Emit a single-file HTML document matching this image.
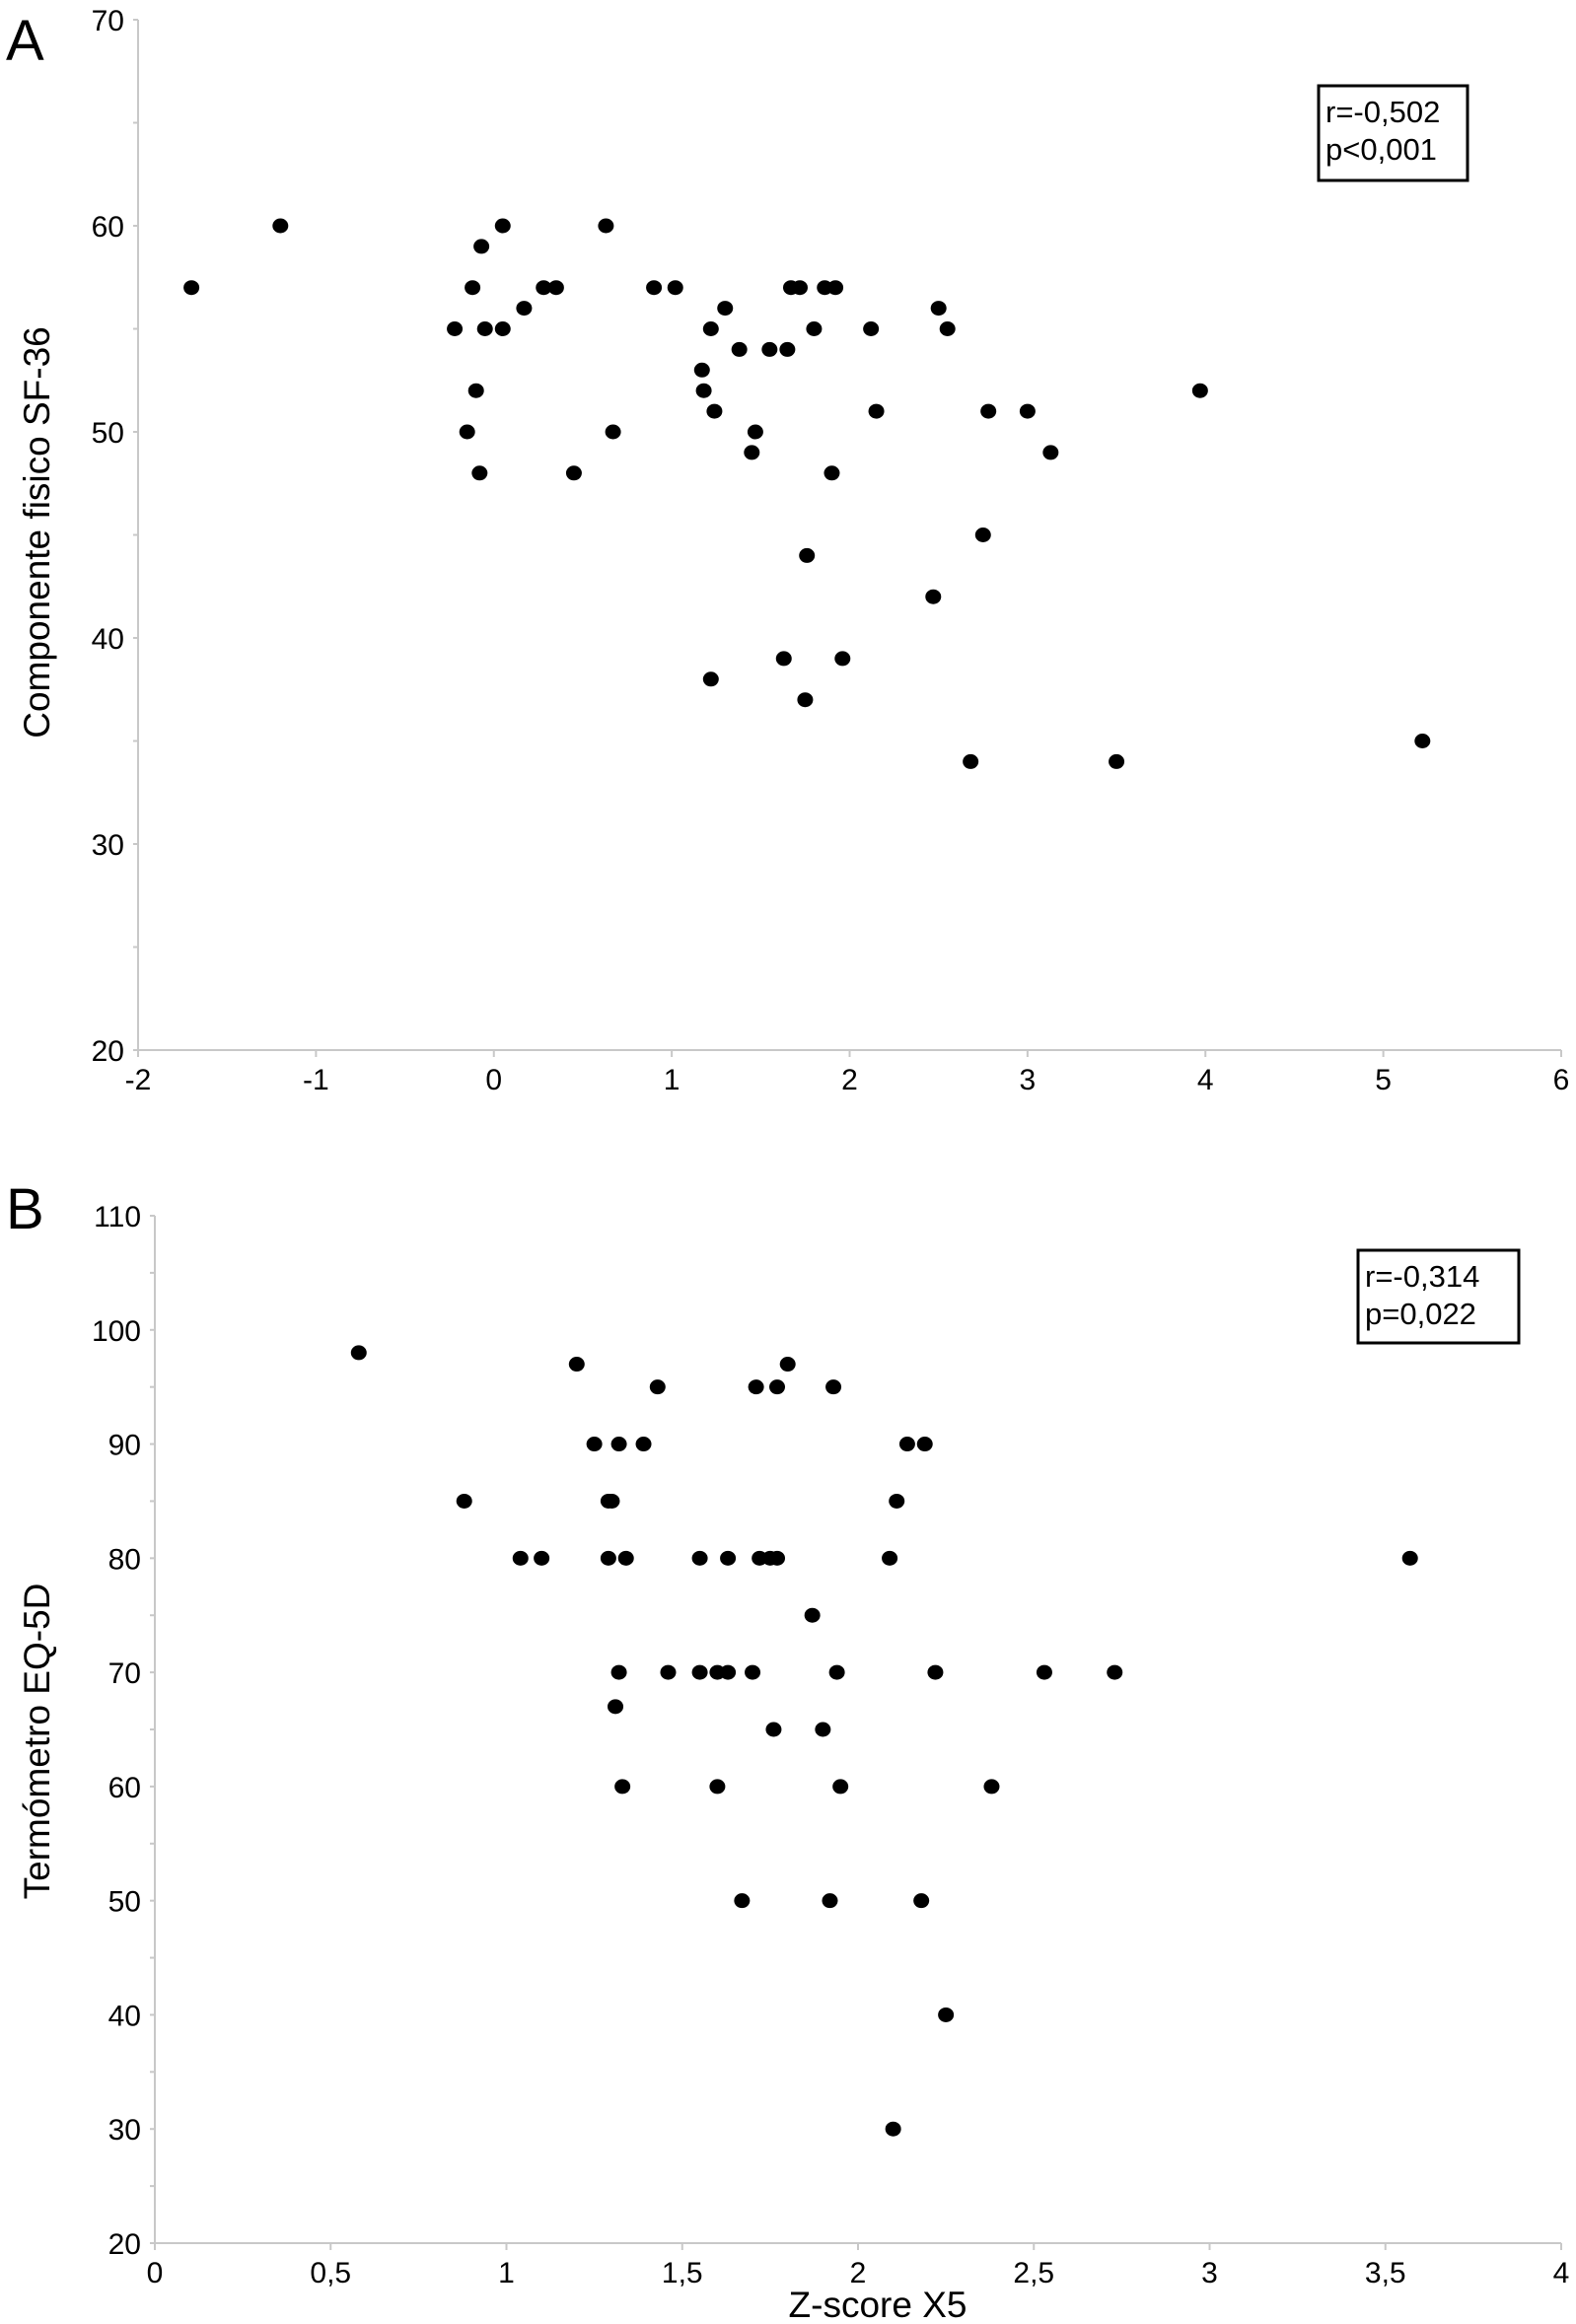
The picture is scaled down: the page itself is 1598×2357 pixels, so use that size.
<!DOCTYPE html>
<html><head><meta charset="utf-8"><style>
html,body{margin:0;padding:0;background:#fff;}
svg{display:block;font-family:"Liberation Sans",sans-serif;}
</style></head><body>
<svg id="chart" width="1598" height="2357" viewBox="0 0 1598 2357">
<text x="6" y="61" font-size="58">A</text>
<text x="6" y="1246" font-size="58">B</text>
<g id="pa"></g>
<g id="pb"></g>
</svg>
<script>
const NS="http://www.w3.org/2000/svg";
const aXTicks=[-2,-1,0,1,2,3,4,5,6];
const aYTicks=[20,30,40,50,60,70];
const aX=[-1.7,-1.2,-0.22,-0.15,-0.12,-0.1,-0.08,-0.07,-0.05,0.05,0.05,0.17,0.28,0.35,0.45,0.63,0.67,0.9,1.02,1.17,1.18,1.22,1.24,1.3,1.22,1.38,1.45,1.47,1.55,1.65,1.63,1.67,1.72,1.75,1.76,1.8,1.86,1.92,1.9,1.96,2.12,2.15,2.47,2.5,2.55,2.68,2.75,2.78,3.0,3.13,3.5,3.97,5.22];
const aY=[57,60,55,50,57,52,48,59,55,55,60,56,57,57,48,60,50,57,57,53,52,55,51,56,38,54,49,50,54,54,39,57,57,37,44,55,57,57,48,39,55,51,42,56,55,34,45,51,51,49,34,52,35];
const bXTicks=[0,0.5,1,1.5,2,2.5,3,3.5,4];
const bXLabels=["0","0,5","1","1,5","2","2,5","3","3,5","4"];
const bYTicks=[20,30,40,50,60,70,80,90,100,110];
const bX=[0.58,0.88,1.04,1.1,1.2,1.25,1.29,1.3,1.29,1.32,1.34,1.39,1.43,1.32,1.31,1.33,1.46,1.55,1.55,1.6,1.63,1.63,1.6,1.67,1.7,1.71,1.72,1.75,1.77,1.77,1.76,1.8,1.87,1.9,1.93,1.94,1.92,1.95,2.09,2.11,2.14,2.19,2.1,2.18,2.22,2.25,2.38,2.53,2.73,3.57];
const bY=[98,85,80,80,97,90,85,85,80,90,80,90,95,70,67,60,70,70,80,70,70,80,60,50,70,95,80,80,95,80,65,97,75,65,95,70,50,60,80,85,90,90,30,50,70,40,60,70,70,80];

function mk(tag,attrs,parent){const e=document.createElementNS(NS,tag);for(const k in attrs)e.setAttribute(k,attrs[k]);parent.appendChild(e);return e;}

function panel(g,cfg,xs,ys,xt,xl,yt){
  const sx=v=>cfg.x0+(v-cfg.xmin)/(cfg.xmax-cfg.xmin)*(cfg.x1-cfg.x0);
  const sy=v=>cfg.y0-(v-cfg.ymin)/(cfg.ymax-cfg.ymin)*(cfg.y0-cfg.y1);
  const ya=mk('line',{x1:cfg.x0,x2:cfg.x0,y1:cfg.y1,y2:cfg.y0,stroke:'#c8c8c8','stroke-width':2},g);
  
  
  const xa=mk('line',{x1:cfg.x0,x2:cfg.x1,y1:cfg.y0,y2:cfg.y0,stroke:'#c8c8c8','stroke-width':2},g);
  
  
  for(let v=cfg.ymin;v<=cfg.ymax;v+=cfg.minor){
    const t=mk('line',{x1:cfg.x0-5,x2:cfg.x0,y1:sy(v),y2:sy(v),stroke:'#c8c8c8','stroke-width':2},g);
    
    
  }
  yt.forEach(v=>{
    const t=mk('text',{x:cfg.x0-14,y:sy(v)+11,'text-anchor':'end','font-size':30},g);
    t.textContent=String(v);
    
    
  });
  xt.forEach((v,i)=>{
    const tk=mk('line',{x1:sx(v),x2:sx(v),y1:cfg.y0,y2:cfg.y0+7,stroke:'#c8c8c8','stroke-width':2},g);
    
    
    const t=mk('text',{x:sx(v),y:cfg.y0+40,'text-anchor':'middle','font-size':30},g);
    t.textContent=xl?xl[i]:String(v);
    
    
  });
  xs.forEach((v,i)=>{
    const c=mk('ellipse',{cx:sx(v),cy:sy(ys[i]),rx:8,ry:7.5,fill:'#000'},g);
    
    
  });
  const yl=mk('text',{x:0,y:0,'text-anchor':'middle','font-size':37,transform:`translate(${cfg.ytx},${cfg.yty}) rotate(-90)`},g);
  yl.textContent=cfg.ytitle;
  
  
  const b=mk('rect',{x:cfg.bx,y:cfg.by,width:cfg.bw,height:cfg.bh,fill:'#fff',stroke:'#000','stroke-width':3},g);
  
  
  cfg.stats.forEach((s,i)=>{
    const t=mk('text',{x:cfg.bx+7,y:cfg.by+37+i*38,'font-size':31},g);
    t.textContent=s;
    
    
  });
}
panel(document.getElementById('pa'),{x0:140,x1:1583,y0:1065,y1:20,xmin:-2,xmax:6,ymin:20,ymax:70,minor:5,ytx:50,yty:540,ytitle:'Componente fisico SF-36',bx:1337,by:87,bw:151,bh:96,stats:['r=-0,502','p<0,001']},aX,aY,aXTicks,null,aYTicks);
panel(document.getElementById('pb'),{x0:157,x1:1583,y0:2275,y1:1233,xmin:0,xmax:4,ymin:20,ymax:110,minor:5,ytx:50,yty:1766,ytitle:'Termómetro EQ-5D',bx:1377,by:1268,bw:163,bh:94,stats:['r=-0,314','p=0,022']},bX,bY,bXTicks,bXLabels,bYTicks);
const xt=mk('text',{x:890,y:2350,'text-anchor':'middle','font-size':37},document.getElementById('pb'));
xt.textContent='Z-score X5';


</script>
</body></html>
